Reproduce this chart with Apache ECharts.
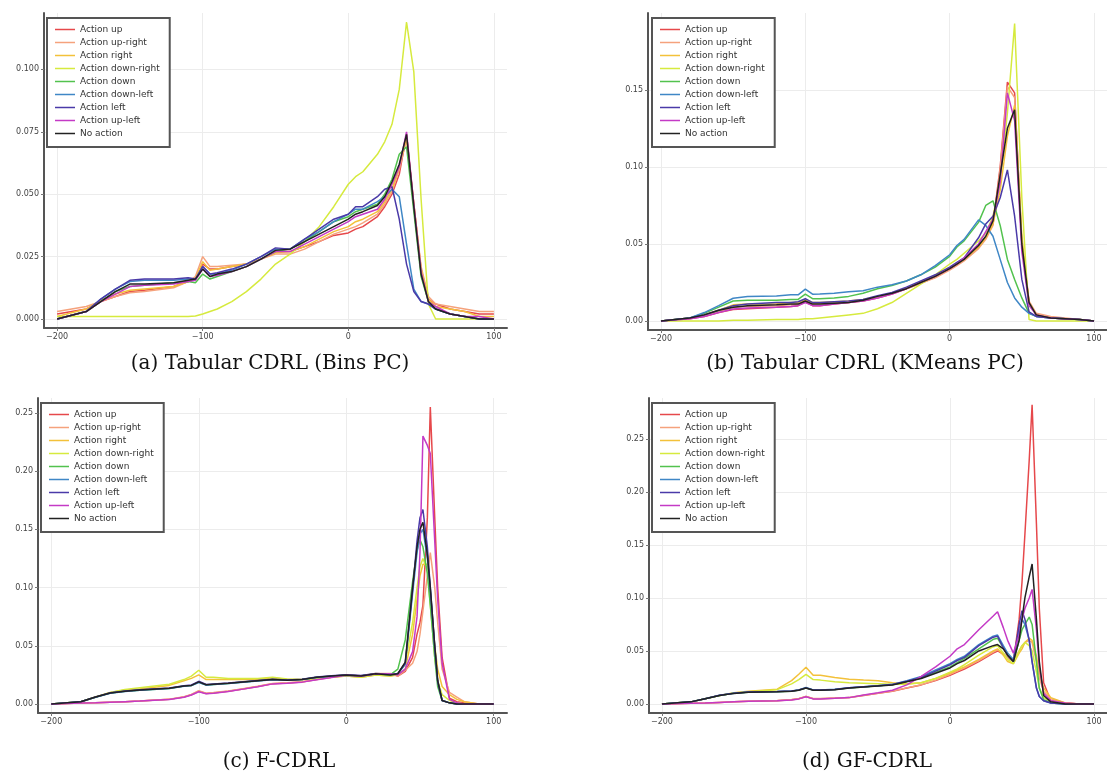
<!DOCTYPE html>
<html>
<head>
<meta charset="utf-8">
<script src="https://cdn.jsdelivr.net/npm/echarts@6/dist/echarts.min.js"></script>
<style>
  html, body { margin: 0; padding: 0; background: #fff; }
  #chart { width: 1107px; height: 774px; }
</style>
</head>
<body>
<div id="chart"></div>
<script>
const names = ['Action up', 'Action up-right', 'Action right', 'Action down-right',
  'Action down', 'Action down-left', 'Action left', 'Action up-left', 'No action']
const colors = ['#e6484b', '#f5a27c', '#f3c13a', '#d6ea3e', '#52c24e', '#3f87c6', '#4a3aa8', '#c43ac6', '#222222']

// x grids
const xA = [-200,-180,-170,-160,-150,-140,-120,-110,-105,-100,-95,-90,-80,-70,-60,-50,-40,-30,-20,-10,
  0,5,10,20,25,30,35,40,45,50,55,60,70,80,90,100]
const xC = [-200,-180,-170,-160,-150,-140,-120,-110,-105,-100,-95,-90,-80,-70,-60,-50,-40,-30,-20,-10,
  0,10,20,30,35,40,45,48,50,52,55,57,60,62,65,70,75,80,90,100]
const xD = [-200,-180,-170,-160,-150,-140,-120,-110,-105,-100,-95,-90,-80,-70,-60,-50,-40,-30,-20,-10,
  0,5,10,20,30,33,37,40,44,48,50,52,55,57,60,62,65,70,80,90,100]

// (a) Tabular CDRL (Bins PC)
const aUp = [0.002,0.004,0.007,0.009,0.011,0.0115,0.013,0.015,0.016,0.022,
  0.020,0.020,0.021,0.022,0.024,0.027,0.027,0.029,0.031,0.0335,
  0.0345,0.036,0.037,0.041,0.045,0.050,0.058,0.074,0.046,0.020,
  0.008,0.006,0.004,0.003,0.002,0.002]
const aUpRight = [0.003,0.005,0.007,0.009,0.0105,0.011,0.0125,0.015,0.017,0.025,
  0.021,0.021,0.0215,0.022,0.024,0.026,0.026,0.028,0.031,0.034,
  0.036,0.037,0.0385,0.042,0.046,0.051,0.060,0.072,0.046,0.021,
  0.009,0.006,0.005,0.004,0.003,0.003]
const aRight = [0.001,0.004,0.0075,0.010,0.0115,0.012,0.013,0.015,0.016,0.023,
  0.0195,0.020,0.021,0.022,0.024,0.0265,0.027,0.029,0.032,0.035,
  0.037,0.039,0.040,0.043,0.047,0.052,0.061,0.073,0.046,0.020,
  0.008,0.005,0.004,0.003,0.001,0.001]
const aDownRight = [0.001,0.001,0.001,0.001,0.001,0.001,0.001,0.001,0.0012,0.002,
  0.003,0.004,0.007,0.011,0.016,0.022,0.026,0.031,0.037,0.045,
  0.054,0.057,0.059,0.066,0.071,0.078,0.092,0.119,0.099,0.048,
  0.006,0.000,0.000,0.000,0.000,0.000]
const aDown = [0.000,0.003,0.007,0.011,0.013,0.0135,0.0145,0.015,0.0145,0.018,
  0.016,0.017,0.019,0.021,0.024,0.027,0.028,0.031,0.035,0.039,
  0.041,0.043,0.044,0.046,0.050,0.056,0.066,0.069,0.043,0.017,
  0.007,0.004,0.002,0.001,0.000,0.000]
const aDownLeft = [0.000,0.003,0.008,0.012,0.015,0.0155,0.0155,0.016,0.016,0.021,
  0.018,0.018,0.0195,0.022,0.025,0.028,0.028,0.032,0.035,0.039,
  0.042,0.044,0.044,0.047,0.049,0.052,0.049,0.030,0.012,0.007,
  0.006,0.004,0.002,0.001,0.000,0.000]
const aLeft = [0.000,0.003,0.008,0.012,0.0155,0.016,0.016,0.0165,0.016,0.021,
  0.018,0.0185,0.020,0.022,0.025,0.0285,0.028,0.032,0.036,0.040,
  0.042,0.045,0.045,0.049,0.052,0.053,0.040,0.022,0.011,0.007,
  0.006,0.004,0.002,0.001,0.000,0.000]
const aUpLeft = [0.000,0.003,0.007,0.010,0.013,0.0135,0.014,0.015,0.0155,0.020,
  0.017,0.0175,0.019,0.021,0.024,0.027,0.027,0.030,0.033,0.036,
  0.039,0.041,0.042,0.044,0.048,0.054,0.061,0.075,0.046,0.019,
  0.007,0.005,0.002,0.001,0.001,0.000]
const aNone = [0.000,0.003,0.007,0.011,0.014,0.014,0.0145,0.0155,0.016,0.020,
  0.017,0.018,0.019,0.021,0.024,0.0275,0.028,0.031,0.034,0.037,
  0.040,0.042,0.043,0.0455,0.049,0.055,0.062,0.074,0.045,0.018,
  0.007,0.004,0.002,0.001,0.000,0.000]

// (b) Tabular CDRL (KMeans PC)
const bUp = [0.000,0.0015,0.003,0.0055,0.0075,0.008,0.009,0.0095,0.010,0.0125,
  0.010,0.010,0.011,0.012,0.013,0.015,0.0175,0.021,0.0245,0.0285,
  0.034,0.037,0.040,0.048,0.054,0.063,0.100,0.155,0.148,0.050,
  0.012,0.004,0.002,0.0015,0.001,0.000]
const bUpRight = [0.000,0.002,0.0035,0.006,0.009,0.0095,0.010,0.0105,0.011,0.0135,
  0.011,0.011,0.0115,0.012,0.0135,0.0155,0.018,0.021,0.0245,0.028,
  0.033,0.036,0.039,0.047,0.053,0.062,0.098,0.152,0.145,0.052,
  0.013,0.005,0.003,0.002,0.001,0.000]
const bRight = [0.000,0.002,0.004,0.007,0.0105,0.011,0.0113,0.012,0.012,0.014,
  0.012,0.012,0.0125,0.013,0.014,0.016,0.018,0.021,0.025,0.029,
  0.034,0.037,0.040,0.048,0.054,0.063,0.085,0.120,0.140,0.055,
  0.012,0.004,0.002,0.0015,0.001,0.000]
const bDownRight = [0.000,0.000,0.000,0.000,0.0005,0.0005,0.001,0.001,0.001,0.0015,
  0.0015,0.002,0.003,0.004,0.005,0.008,0.012,0.018,0.024,0.030,
  0.037,0.040,0.044,0.052,0.057,0.068,0.090,0.135,0.193,0.080,
  0.001,0.000,0.000,0.000,0.000,0.000]
const bDown = [0.000,0.002,0.005,0.009,0.013,0.0135,0.0135,0.014,0.014,0.0175,
  0.0145,0.0145,0.015,0.016,0.018,0.021,0.023,0.026,0.030,0.035,
  0.042,0.048,0.052,0.064,0.075,0.078,0.062,0.040,0.027,0.015,
  0.005,0.003,0.002,0.0015,0.001,0.000]
const bDownLeft = [0.000,0.002,0.0055,0.010,0.0148,0.016,0.0163,0.017,0.017,0.0207,
  0.0174,0.0175,0.018,0.019,0.0196,0.022,0.0235,0.026,0.030,0.036,
  0.043,0.049,0.053,0.0656,0.062,0.055,0.040,0.025,0.015,0.009,
  0.005,0.003,0.002,0.0015,0.001,0.000]
const bLeft = [0.000,0.002,0.004,0.007,0.010,0.011,0.012,0.012,0.0125,0.0145,
  0.012,0.012,0.0125,0.013,0.014,0.0165,0.0185,0.022,0.026,0.030,
  0.035,0.038,0.041,0.054,0.063,0.068,0.080,0.098,0.068,0.027,
  0.006,0.003,0.002,0.0015,0.001,0.000]
const bUpLeft = [0.000,0.0015,0.003,0.0055,0.0078,0.0085,0.009,0.0095,0.010,0.012,
  0.010,0.010,0.011,0.012,0.013,0.015,0.0175,0.021,0.025,0.029,
  0.034,0.037,0.041,0.050,0.058,0.066,0.090,0.148,0.130,0.045,
  0.010,0.004,0.002,0.0015,0.001,0.000]
const bNone = [0.000,0.002,0.004,0.007,0.009,0.010,0.0105,0.011,0.011,0.013,
  0.011,0.011,0.0115,0.012,0.0135,0.016,0.018,0.021,0.025,0.029,
  0.034,0.037,0.040,0.049,0.055,0.065,0.095,0.125,0.137,0.050,
  0.012,0.004,0.002,0.0015,0.001,0.000]

// (c) F-CDRL
const cUp = [0.000,0.0008,0.001,0.0015,0.002,0.0025,0.004,0.006,0.008,0.011,
  0.009,0.0095,0.011,0.013,0.015,0.0175,0.018,0.019,0.021,0.023,
  0.025,0.024,0.026,0.026,0.024,0.028,0.040,0.060,0.070,0.085,
  0.160,0.255,0.160,0.100,0.040,0.005,0.002,0.001,0.000,0.000]
const cUpRight = [0.000,0.0008,0.001,0.0015,0.002,0.0025,0.0042,0.0062,0.0082,0.0115,
  0.0093,0.0098,0.0112,0.0132,0.0152,0.0176,0.0182,0.0192,0.0212,0.0232,
  0.0252,0.0242,0.0262,0.0262,0.024,0.029,0.035,0.045,0.060,0.080,
  0.110,0.130,0.100,0.070,0.030,0.010,0.006,0.002,0.000,0.000]
const cRight = [0.000,0.002,0.006,0.010,0.012,0.013,0.016,0.020,0.022,0.025,
  0.021,0.021,0.021,0.021,0.021,0.0225,0.021,0.021,0.022,0.023,
  0.024,0.023,0.025,0.024,0.025,0.030,0.060,0.090,0.110,0.120,
  0.120,0.095,0.050,0.030,0.015,0.008,0.004,0.002,0.000,0.000]
const cDownRight = [0.000,0.002,0.006,0.010,0.0125,0.014,0.017,0.021,0.024,0.029,
  0.023,0.023,0.022,0.022,0.022,0.023,0.0215,0.021,0.022,0.023,
  0.024,0.023,0.025,0.024,0.026,0.035,0.070,0.100,0.118,0.125,
  0.115,0.085,0.040,0.020,0.008,0.003,0.001,0.000,0.000,0.000]
const cDown = [0.000,0.002,0.0058,0.0094,0.0109,0.0119,0.0134,0.0154,0.0158,0.0188,
  0.0163,0.0168,0.0177,0.0189,0.0199,0.021,0.0204,0.021,0.0229,0.0239,
  0.0249,0.0241,0.0259,0.0252,0.030,0.055,0.105,0.132,0.141,0.135,
  0.112,0.085,0.040,0.015,0.003,0.001,0.000,0.000,0.000,0.000]
const cDownLeft = [0.000,0.002,0.0058,0.0093,0.0108,0.0118,0.0133,0.0152,0.0158,0.0185,
  0.0162,0.0168,0.0176,0.0188,0.0198,0.0208,0.0205,0.021,0.0228,0.0238,
  0.0248,0.0242,0.0258,0.0252,0.026,0.034,0.095,0.130,0.146,0.150,
  0.125,0.098,0.048,0.019,0.003,0.001,0.000,0.000,0.000,0.000]
const cLeft = [0.000,0.002,0.006,0.0097,0.0112,0.0122,0.0137,0.0157,0.0163,0.0195,
  0.0168,0.0172,0.018,0.0192,0.0202,0.0212,0.0207,0.0213,0.0232,0.0242,
  0.0252,0.0245,0.0262,0.0255,0.0262,0.035,0.098,0.140,0.160,0.167,
  0.135,0.100,0.050,0.020,0.003,0.001,0.000,0.000,0.000,0.000]
const cUpLeft = [0.000,0.0008,0.001,0.0015,0.002,0.0025,0.0038,0.0058,0.0078,0.0105,
  0.0088,0.0092,0.0108,0.0128,0.0148,0.0173,0.0178,0.0188,0.0208,0.0228,
  0.0248,0.0238,0.0258,0.0258,0.025,0.030,0.045,0.075,0.130,0.230,
  0.222,0.215,0.140,0.090,0.035,0.004,0.001,0.000,0.000,0.000]
const cNone = [0.000,0.002,0.006,0.0095,0.011,0.012,0.0135,0.0155,0.016,0.019,
  0.0165,0.017,0.0178,0.019,0.020,0.021,0.0205,0.021,0.023,0.024,
  0.025,0.024,0.026,0.025,0.026,0.036,0.100,0.135,0.150,0.156,
  0.128,0.100,0.050,0.020,0.003,0.001,0.000,0.000,0.000,0.000]

// (d) GF-CDRL
const dUp = [0.000,0.0008,0.001,0.0015,0.002,0.0025,0.003,0.004,0.005,0.007,
  0.005,0.005,0.0055,0.006,0.008,0.010,0.012,0.015,0.018,0.022,
  0.027,0.030,0.033,0.040,0.048,0.050,0.047,0.044,0.040,0.080,
  0.115,0.160,0.230,0.282,0.170,0.090,0.020,0.003,0.001,0.000,
  0.000]
const dUpRight = [0.000,0.0008,0.001,0.0015,0.002,0.0026,0.0032,0.0042,0.0052,0.0072,
  0.0052,0.0052,0.0057,0.0062,0.0082,0.0102,0.0122,0.0152,0.0182,0.0225,
  0.028,0.031,0.034,0.041,0.049,0.051,0.048,0.044,0.041,0.050,
  0.055,0.058,0.060,0.058,0.040,0.025,0.012,0.005,0.001,0.000,
  0.000]
const dRight = [0.000,0.002,0.005,0.008,0.0106,0.012,0.014,0.022,0.028,0.0346,
  0.027,0.027,0.025,0.0234,0.0225,0.022,0.020,0.019,0.020,0.024,
  0.029,0.032,0.035,0.042,0.050,0.052,0.046,0.040,0.038,0.048,
  0.052,0.058,0.062,0.060,0.045,0.030,0.015,0.006,0.001,0.000,
  0.000]
const dDownRight = [0.000,0.002,0.005,0.008,0.0104,0.0115,0.0135,0.019,0.023,0.028,
  0.023,0.0225,0.021,0.020,0.0195,0.019,0.0185,0.0185,0.020,0.024,
  0.030,0.033,0.037,0.046,0.054,0.055,0.048,0.042,0.038,0.050,
  0.055,0.058,0.055,0.050,0.030,0.015,0.006,0.002,0.000,0.000,
  0.000]
const dDown = [0.000,0.002,0.005,0.0081,0.0101,0.0111,0.0116,0.0121,0.0131,0.0151,
  0.0131,0.0131,0.0136,0.0151,0.0161,0.0171,0.0182,0.0213,0.0245,0.030,
  0.035,0.039,0.043,0.052,0.061,0.062,0.053,0.046,0.040,0.060,
  0.070,0.075,0.082,0.075,0.040,0.015,0.004,0.001,0.000,0.000,
  0.000]
const dDownLeft = [0.000,0.002,0.005,0.0082,0.0102,0.0112,0.0118,0.0123,0.0133,0.0155,
  0.0133,0.0133,0.0138,0.0153,0.0163,0.0173,0.0185,0.022,0.026,0.032,
  0.038,0.042,0.045,0.056,0.064,0.065,0.055,0.048,0.042,0.070,
  0.080,0.075,0.060,0.040,0.015,0.007,0.003,0.001,0.000,0.000,
  0.000]
const dLeft = [0.000,0.002,0.005,0.0082,0.0102,0.0112,0.0117,0.0122,0.0132,0.0152,
  0.0132,0.0132,0.0137,0.0152,0.0162,0.0172,0.0183,0.0215,0.025,0.031,
  0.037,0.041,0.044,0.055,0.063,0.064,0.053,0.046,0.040,0.075,
  0.088,0.080,0.060,0.040,0.015,0.007,0.003,0.001,0.000,0.000,
  0.000]
const dUpLeft = [0.000,0.0008,0.001,0.0015,0.002,0.0025,0.003,0.0038,0.0048,0.0068,
  0.0048,0.0048,0.0053,0.006,0.0085,0.0105,0.013,0.018,0.026,0.035,
  0.045,0.052,0.056,0.070,0.083,0.087,0.072,0.060,0.048,0.065,
  0.080,0.090,0.100,0.108,0.070,0.035,0.010,0.003,0.001,0.000,
  0.000]
const dNone = [0.000,0.002,0.005,0.008,0.010,0.011,0.0115,0.012,0.013,0.015,
  0.013,0.013,0.0135,0.015,0.016,0.017,0.018,0.021,0.024,0.029,
  0.034,0.038,0.041,0.050,0.055,0.056,0.052,0.046,0.040,0.060,
  0.080,0.100,0.120,0.132,0.080,0.040,0.008,0.002,0.000,0.000,
  0.000]

// tick labels
const xTicks = [-200, -100, 0, 100]
const yTicksA = [0, 0.025, 0.05, 0.075, 0.1]
const yTicksB = [0, 0.05, 0.1, 0.15]
const yTicksCD = [0, 0.05, 0.1, 0.15, 0.2, 0.25]
const captions = ['(a) Tabular CDRL (Bins PC)', '(b) Tabular CDRL (KMeans PC)', '(c) F-CDRL', '(d) GF-CDRL']

const panels = [
  { x: xA, ys: [aUp, aUpRight, aRight, aDownRight, aDown, aDownLeft, aLeft, aUpLeft, aNone],
    grid: { left: 44, top: 13, width: 463, height: 315 }, ymin: -0.0036, ymax: 0.1226,
    yTicks: yTicksA, digits: 3, legend: [47, 18], cap: [265, 349] },
  { x: xA, ys: [bUp, bUpRight, bRight, bDownRight, bDown, bDownLeft, bLeft, bUpLeft, bNone],
    grid: { left: 648, top: 13, width: 472, height: 317 }, ymin: -0.0058, ymax: 0.1998,
    yTicks: yTicksB, digits: 2, legend: [652, 18], cap: [860, 349] },
  { x: xC, ys: [cUp, cUpRight, cRight, cDownRight, cDown, cDownLeft, cLeft, cUpLeft, cNone],
    grid: { left: 38, top: 398, width: 469, height: 315 }, ymin: -0.0077, ymax: 0.2627,
    yTicks: yTicksCD, digits: 2, legend: [41, 403], cap: [274, 747] },
  { x: xD, ys: [dUp, dUpRight, dRight, dDownRight, dDown, dDownLeft, dLeft, dUpLeft, dNone],
    grid: { left: 649, top: 398, width: 472, height: 315 }, ymin: -0.0085, ymax: 0.2885,
    yTicks: yTicksCD, digits: 2, legend: [652, 403], cap: [862, 747] },
]

const tickFont = { fontSize: 8, color: '#444', fontFamily: 'DejaVu Sans' }
const axisLine = { onZero: false, lineStyle: { color: '#555', width: 2 } }
const gridLine = { show: true, lineStyle: { color: '#ececec', width: 1 } }

let chart = echarts.init(document.getElementById('chart'), null, { renderer: 'canvas' })

let options = {
  backgroundColor: '#fff',
  animation: false,
  color: colors,
  title: panels.map((p, i) => ({
    text: captions[i],
    left: p.cap[0],
    top: p.cap[1],
    textAlign: 'center',
    textStyle: { fontFamily: 'DejaVu Serif', fontWeight: 'normal', fontSize: 20, color: '#111' },
  })),
  grid: panels.map(p => p.grid),
  legend: panels.map(p => ({
    data: names,
    orient: 'vertical',
    left: p.legend[0],
    top: p.legend[1],
    icon: 'rect',
    itemWidth: 20,
    itemHeight: 1.5,
    itemGap: 2,
    padding: [6, 10, 8, 8],
    borderColor: '#555',
    borderWidth: 2,
    borderRadius: 0,
    backgroundColor: '#fff',
    textStyle: { fontSize: 9, lineHeight: 11, color: '#333', fontFamily: 'DejaVu Sans' },
    selectedMode: false,
  })),
  xAxis: panels.map((p, i) => ({
    type: 'value',
    gridIndex: i,
    min: -209,
    max: 109,
    axisLine: axisLine,
    axisTick: { show: true, length: 3, customValues: xTicks, lineStyle: { color: '#777' } },
    axisLabel: {
      ...tickFont,
      margin: 5,
      customValues: xTicks,
      formatter: v => String(v).replace('-', '\u2212'),
    },
    splitLine: gridLine,
  })),
  yAxis: panels.map((p, i) => ({
    type: 'value',
    gridIndex: i,
    min: p.ymin,
    max: p.ymax,
    axisLine: axisLine,
    axisTick: { show: true, length: 3, customValues: p.yTicks, lineStyle: { color: '#777' } },
    axisLabel: {
      ...tickFont,
      margin: 5,
      customValues: p.yTicks,
      formatter: v => v.toFixed(p.digits),
    },
    splitLine: gridLine,
  })),
  series: [],
}

panels.forEach((p, i) => {
  p.ys.forEach((ys, k) => {
    options.series.push({
      name: names[k],
      type: 'line',
      xAxisIndex: i,
      yAxisIndex: i,
      showSymbol: false,
      symbol: 'none',
      silent: true,
      lineStyle: { width: 1.5, color: colors[k] },
      itemStyle: { color: colors[k] },
      data: p.x.map((x, j) => [x, ys[j]]),
    })
  })
})

chart.setOption(options)
</script>
</body>
</html>
